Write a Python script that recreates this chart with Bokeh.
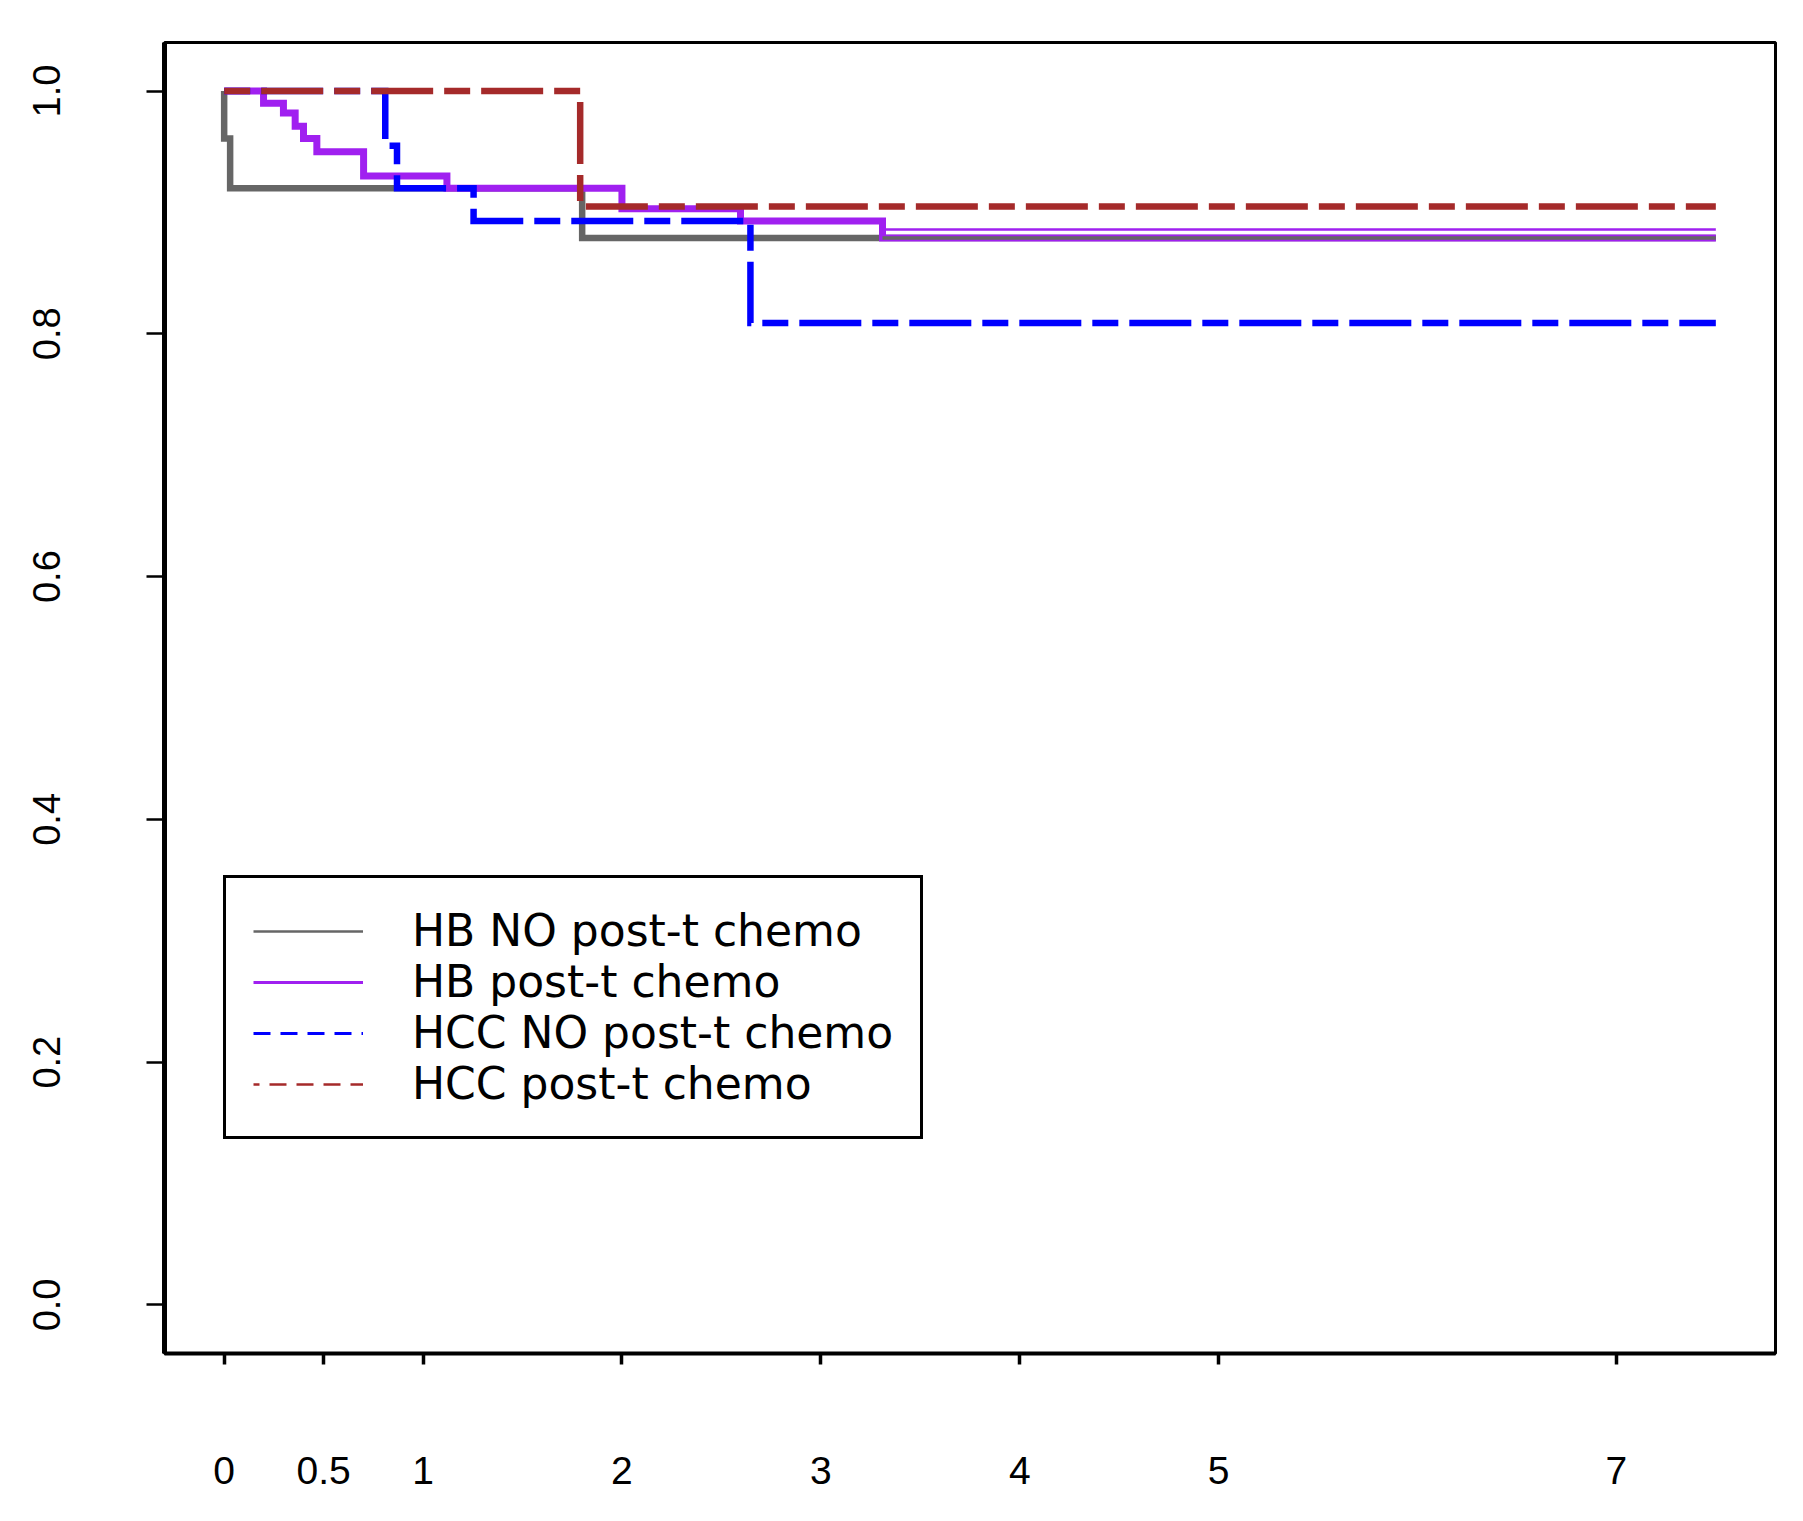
from bokeh.plotting import figure
from bokeh.models import Range1d, FixedTicker, Legend, LegendItem, ColumnDataSource
from bokeh.embed import file_html
from bokeh.resources import INLINE

# ---- data ----
hb_no_t = [0.0, 0.0, 0.03, 1.80, 7.5]
hb_no_s = [1.0, 0.961, 0.920, 0.879, 0.879]

hb_post_t = [0.0, 0.198, 0.298, 0.357, 0.399, 0.466, 0.701, 1.120, 2.00, 2.596, 3.31, 7.5]
hb_post_s = [1.0, 0.990, 0.982, 0.971, 0.961, 0.950, 0.930, 0.920, 0.903, 0.893, 0.879, 0.879]
hb_post_upper_t = [3.31, 7.5]
hb_post_upper_s = [0.886, 0.886]

hcc_no_t = [0.0, 0.81, 0.869, 1.254, 2.646, 7.5]
hcc_no_s = [1.0, 0.955, 0.920, 0.893, 0.809, 0.809]

hcc_post_t = [0.0, 1.79, 7.5]
hcc_post_s = [1.0, 0.905, 0.905]

series_labels = ["HB NO post-t chemo", "HB post-t chemo", "HCC NO post-t chemo", "HCC post-t chemo"]
x_ticks = [0, 0.5, 1, 2, 3, 4, 5, 7]
x_tick_labels = ["0", "0.5", "1", "2", "3", "4", "5", "7"]
y_ticks = [0.0, 0.2, 0.4, 0.6, 0.8, 1.0]
y_tick_labels = ["0.0", "0.2", "0.4", "0.6", "0.8", "1.0"]

GRAY = "#666666"
PURPLE = "#A020F0"
BLUE = "#0000FF"
BROWN = "#A52A2A"
DASH = "26 11 62 11"
NAN = float("nan")

p = figure(width=1787, height=1505,
           x_range=Range1d(-0.3, 7.8), y_range=Range1d(-0.04, 1.04),
           output_backend="svg", toolbar_location=None,
           min_border_left=164, min_border_right=12,
           min_border_top=42, min_border_bottom=152)
p.grid.visible = False
p.outline_line_color = "black"
p.outline_line_width = 3
p.background_fill_color = "white"
p.border_fill_color = "white"

# x axis
p.xaxis.ticker = FixedTicker(ticks=x_ticks)
p.xaxis.major_label_overrides = {t: l for t, l in zip(x_ticks, x_tick_labels)}
p.xaxis.major_tick_out = 11
p.xaxis.major_tick_in = 0
p.xaxis.major_tick_line_width = 3.5
p.xaxis.minor_tick_line_color = None
p.xaxis.axis_line_width = 4
p.xaxis.major_label_standoff = 92
p.xaxis.major_label_text_font = "Liberation Sans"
p.xaxis.major_label_text_font_size = "39px"
p.xaxis.major_label_text_color = "black"

# y axis
p.yaxis.ticker = FixedTicker(ticks=y_ticks)
p.yaxis.major_label_overrides = {t: l for t, l in zip(y_ticks, y_tick_labels)}
p.yaxis.major_tick_out = 18
p.yaxis.major_tick_in = 0
p.yaxis.major_tick_line_width = 2.5
p.yaxis.minor_tick_line_color = None
p.yaxis.axis_line_width = 5
p.yaxis.major_label_orientation = "vertical"
p.yaxis.major_label_standoff = 86
p.yaxis.major_label_text_font = "Liberation Sans"
p.yaxis.major_label_text_font_size = "38px"
p.yaxis.major_label_text_color = "black"

# curves
src_gray = ColumnDataSource(dict(t=hb_no_t, s=hb_no_s))
src_purple = ColumnDataSource(dict(t=hb_post_t, s=hb_post_s))
src_blue = ColumnDataSource(dict(t=hcc_no_t, s=hcc_no_s))
src_brown = ColumnDataSource(dict(t=hcc_post_t, s=hcc_post_s))
tail_start = hb_post_t[-2]
tail_t = [max(t, tail_start) for t in hb_no_t if t >= 1.0]
tail_s = [s for t, s in zip(hb_no_t, hb_no_s) if t >= 1.0]

p.step("t", "s", source=src_gray, mode="after", line_color=GRAY, line_width=6.5, line_join="miter")
p.step("t", "s", source=src_purple, mode="after", line_color=PURPLE, line_width=7, line_join="miter")
p.line(hb_post_upper_t, hb_post_upper_s, line_color=PURPLE, line_width=2.5)
p.step("t", "s", source=src_blue, mode="after", line_color=BLUE, line_width=6.5,
       line_dash=DASH, line_join="miter")
p.step("t", "s", source=src_brown, mode="after", line_color=BROWN, line_width=6.5,
       line_dash=DASH, line_join="miter")
# gray overlay on the shared tail where both HB curves coincide
p.step(tail_t, tail_s, mode="after", line_color=GRAY, line_width=3.5)

# legend-only (thin) line renderers, nothing drawn in the plot area
lg_gray = p.line([NAN], [NAN], line_color=GRAY, line_width=2.5)
lg_purple = p.line([NAN], [NAN], line_color=PURPLE, line_width=3)
lg_blue = p.line([NAN], [NAN], line_color=BLUE, line_width=3, line_dash="17 10")
lg_brown = p.line([NAN], [NAN], line_color=BROWN, line_width=2.5, line_dash="17 10", line_dash_offset=11)

legend = Legend(items=[LegendItem(label=lbl, renderers=[r], index=0) for lbl, r in
                       zip(series_labels, [lg_gray, lg_purple, lg_blue, lg_brown])],
                location=(59, 214), margin=0, padding=27, spacing=0,
                glyph_width=110, glyph_height=30, label_standoff=49,
                label_text_font="DejaVu Sans", label_text_font_size="44px",
                label_text_color="black",
                border_line_color="black", border_line_width=3, border_line_alpha=1.0,
                background_fill_color="white", background_fill_alpha=1.0)
p.add_layout(legend)

open("out.html", "w").write(file_html(p, INLINE))
